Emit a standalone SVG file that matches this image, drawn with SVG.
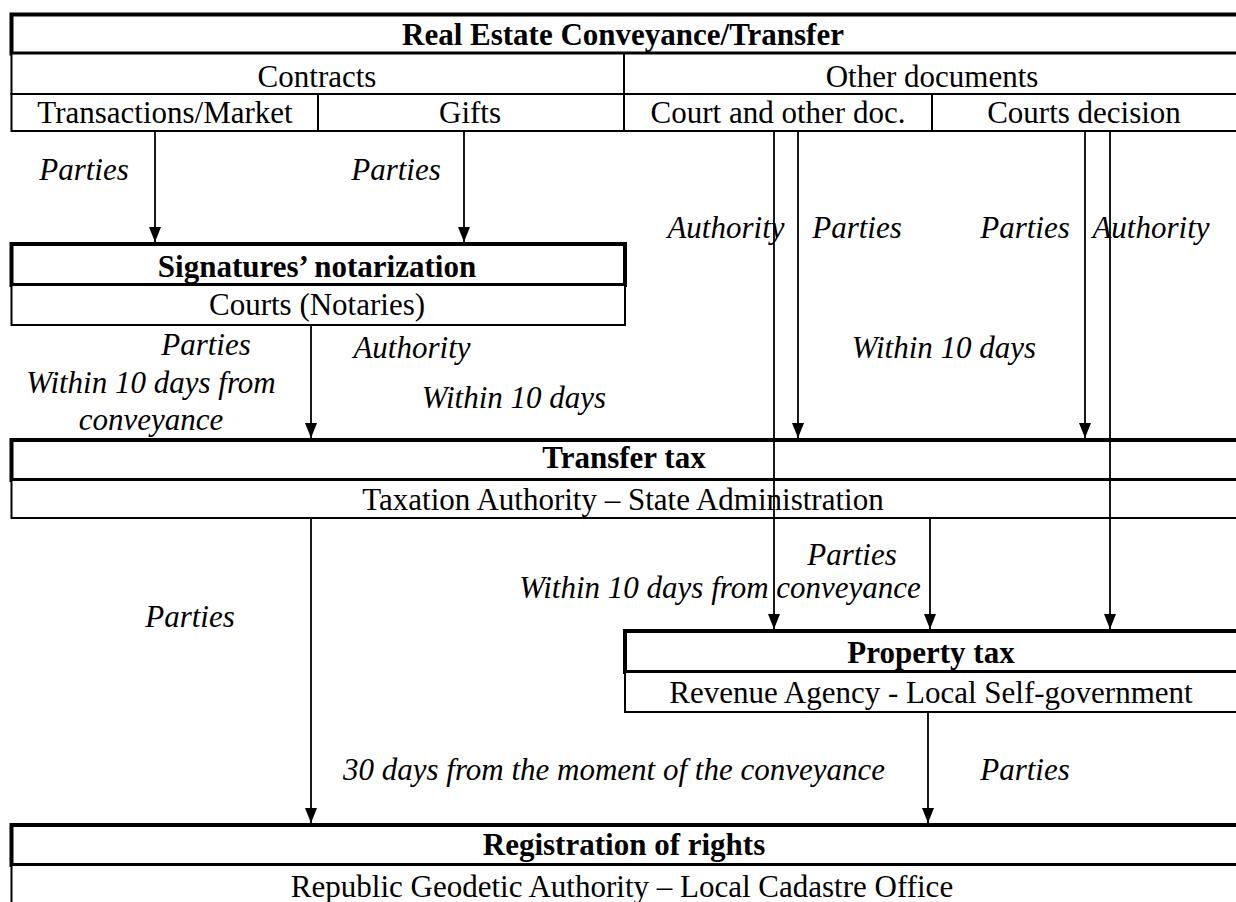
<svg xmlns="http://www.w3.org/2000/svg" width="1236" height="902" viewBox="0 0 1236 902">
<defs>
<marker id="arr" markerUnits="userSpaceOnUse" markerWidth="15" markerHeight="12" viewBox="0 0 15 12" refX="15" refY="6" orient="auto">
<path d="M0,0 L15,6 L0,12 z" fill="#000"/>
</marker>
<style>
.thick{fill:#fff;stroke:#000;stroke-width:4}
.thin{fill:#fff;stroke:#000;stroke-width:2}
.t{font-family:"Liberation Serif","Times New Roman",serif;font-size:31px;fill:#000;text-anchor:middle}
.b{font-weight:bold}
.i{font-style:italic}
.c{stroke:#000;stroke-width:1.8;fill:none;marker-end:url(#arr)}
</style>
</defs>
<rect width="1236" height="902" fill="#fff"/>

<g id="conveyance">
<rect class="thick" x="11.5" y="14.5" width="1230" height="39"/>
<text class="t b" x="623" y="45">Real Estate Conveyance/Transfer</text>
</g>
<g id="contracts">
<rect class="thin" x="11.5" y="53.5" width="612.5" height="40.5"/>
<text class="t" x="317" y="87">Contracts</text>
</g>
<g id="other-documents">
<rect class="thin" x="624" y="53.5" width="620" height="40.5"/>
<text class="t" x="932" y="87">Other documents</text>
</g>
<g id="transactions">
<rect class="thin" x="11.5" y="94" width="306.5" height="37"/>
<text class="t" x="165" y="123">Transactions/Market</text>
</g>
<g id="gifts">
<rect class="thin" x="318" y="94" width="306" height="37"/>
<text class="t" x="470" y="123">Gifts</text>
</g>
<g id="court-docs">
<rect class="thin" x="624" y="94" width="308" height="37"/>
<text class="t" x="778" y="123">Court and other doc.</text>
</g>
<g id="courts-decision">
<rect class="thin" x="932" y="94" width="312" height="37"/>
<text class="t" x="1084" y="123">Courts decision</text>
</g>

<g id="signatures">
<rect class="thick" x="11.5" y="244" width="613.5" height="41"/>
<text class="t b" x="317" y="277">Signatures’ notarization</text>
<rect class="thin" x="11.5" y="285" width="613.5" height="40"/>
<text class="t" x="317" y="315">Courts (Notaries)</text>
</g>

<g id="transfer-tax">
<rect class="thick" x="11.5" y="440" width="1230" height="40"/>
<text class="t b" x="624" y="468">Transfer tax</text>
<rect class="thin" x="11.5" y="480" width="1230" height="38"/>
<text class="t" x="623" y="510">Taxation Authority – State Administration</text>
</g>

<g id="property-tax">
<rect class="thick" x="625" y="631" width="620" height="41"/>
<text class="t b" x="931" y="663">Property tax</text>
<rect class="thin" x="625" y="672" width="620" height="40"/>
<text class="t" x="931" y="703">Revenue Agency - Local Self-government</text>
</g>

<g id="registration">
<rect class="thick" x="11.5" y="825" width="1230" height="40"/>
<text class="t b" x="624" y="855">Registration of rights</text>
<rect class="thin" x="11.5" y="865" width="1230" height="50"/>
<text class="t" x="622" y="897">Republic Geodetic Authority – Local Cadastre Office</text>
</g>

<g id="connectors">
<line class="c" x1="155" y1="131" x2="155" y2="242"/>
<line class="c" x1="464" y1="131" x2="464" y2="242"/>
<line class="c" x1="311" y1="325" x2="311" y2="438"/>
<line class="c" x1="774" y1="131" x2="774" y2="629"/>
<line class="c" x1="798" y1="131" x2="798" y2="438"/>
<line class="c" x1="1085" y1="131" x2="1085" y2="438"/>
<line class="c" x1="1110" y1="131" x2="1110" y2="629"/>
<line class="c" x1="930" y1="518" x2="930" y2="629"/>
<line class="c" x1="311" y1="518" x2="311" y2="823"/>
<line class="c" x1="928" y1="712" x2="928" y2="823"/>
</g>

<g id="labels">
<text class="t i" x="84" y="180">Parties</text>
<text class="t i" x="396" y="180">Parties</text>
<text class="t i" x="726" y="238">Authority</text>
<text class="t i" x="857" y="238">Parties</text>
<text class="t i" x="1025" y="238">Parties</text>
<text class="t i" x="1151" y="238">Authority</text>
<text class="t i" x="206" y="355">Parties</text>
<text class="t i" x="151" y="393">Within 10 days from</text>
<text class="t i" x="151" y="430">conveyance</text>
<text class="t i" x="412" y="358">Authority</text>
<text class="t i" x="514" y="408">Within 10 days</text>
<text class="t i" x="944" y="358">Within 10 days</text>
<text class="t i" x="852" y="565">Parties</text>
<text class="t i" x="720" y="598">Within 10 days from conveyance</text>
<text class="t i" x="190" y="627">Parties</text>
<text class="t i" x="614" y="780">30 days from the moment of the conveyance</text>
<text class="t i" x="1025" y="780">Parties</text>
</g>
</svg>
